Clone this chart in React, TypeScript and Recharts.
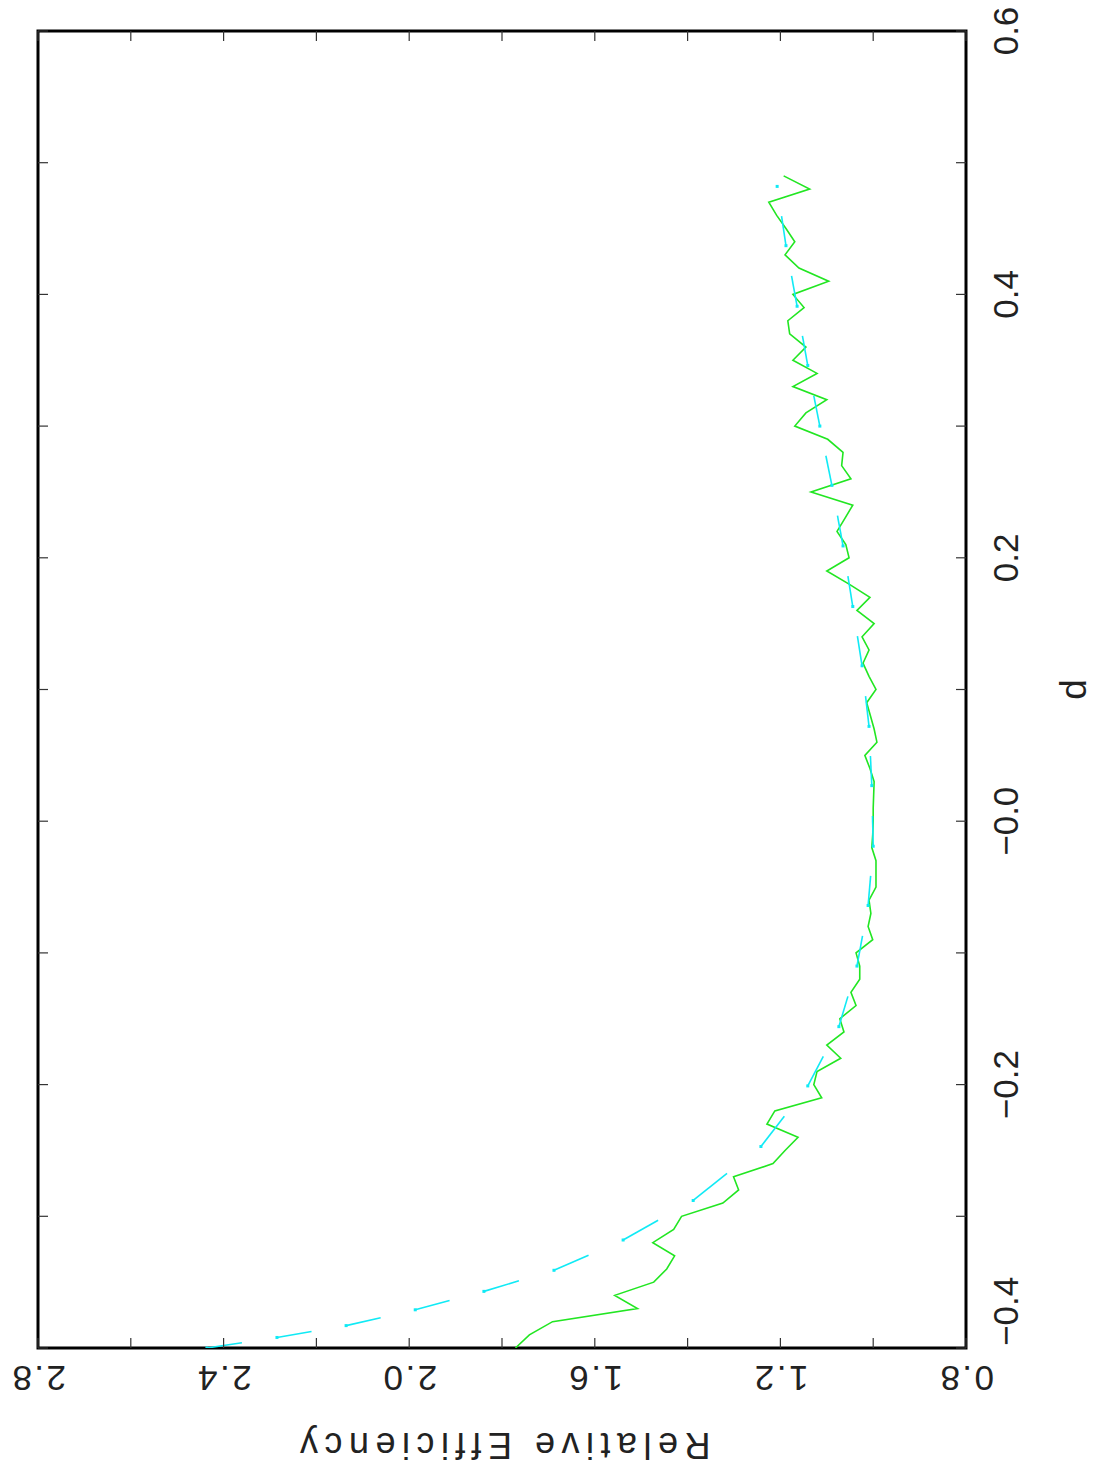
import React from 'react'
import { LineChart, Line, XAxis, YAxis, ReferenceArea } from 'recharts'

// d grid for the simulated curve (step 0.01, from -0.40 to 0.49)
const GREEN_EFF = [
  1.771, 1.741, 1.691, 1.508, 1.557, 1.473, 1.445, 1.428, 1.475, 1.430,
  1.413, 1.324, 1.290, 1.301, 1.216, 1.190, 1.162, 1.229, 1.212, 1.111,
  1.128, 1.121, 1.070, 1.100, 1.063, 1.072, 1.037, 1.048, 1.029, 1.029,
  1.037, 1.001, 1.011, 1.005, 1.009, 0.994, 0.994, 0.994, 1.003, 1.001,
  1.000, 1.000, 0.999, 0.998, 1.007, 1.018, 0.992, 0.998, 1.006, 1.014,
  0.994, 1.009, 1.022, 1.009, 1.024, 0.998, 1.035, 1.007, 1.052, 1.100,
  1.052, 1.059, 1.078, 1.061, 1.044, 1.134, 1.048, 1.068, 1.065, 1.098,
  1.169, 1.145, 1.100, 1.173, 1.121, 1.173, 1.145, 1.180, 1.184, 1.149,
  1.173, 1.096, 1.160, 1.190, 1.169, 1.188, 1.208, 1.225, 1.137, 1.193,
]
const GREEN_D = GREEN_EFF.map((_, i) => Number((-0.4 + i * 0.01).toFixed(2)))

// theoretical curve, points
const CYAN_D = [
  -0.400, -0.392, -0.383, -0.371, -0.357, -0.341, -0.318, -0.288, -0.247, -0.201,
  -0.156, -0.110, -0.064, -0.019, 0.027, 0.072, 0.118, 0.163, 0.209, 0.255,
  0.300, 0.346, 0.391, 0.437, 0.482,
]
const CYAN_EFF = [
  2.436, 2.285, 2.136, 1.987, 1.839, 1.688, 1.539, 1.388, 1.242, 1.141,
  1.074, 1.035, 1.011, 1.000, 1.003, 1.009, 1.024, 1.044, 1.065, 1.089,
  1.115, 1.141, 1.164, 1.188, 1.207,
]

const D_TICKS = [-0.4, -0.3, -0.2, -0.1, 0, 0.1, 0.2, 0.3, 0.4, 0.5, 0.6]
const D_LABELS = ['\u22120.4', '', '\u22120.2', '', '\u22120.0', '', '0.2', '', '0.4', '', '0.6']
const EFF_TICKS = [0.8, 1.0, 1.2, 1.4, 1.6, 1.8, 2.0, 2.2, 2.4, 2.6, 2.8]
const EFF_LABELS = ['0.8', '', '1.2', '', '1.6', '', '2.0', '', '2.4', '', '2.8']

const greenData = GREEN_D.map((d, i) => ({ d, eff: GREEN_EFF[i] }))
const cyanData = CYAN_D.map((d, i) => ({ d, eff: CYAN_EFF[i] }))

const W = 1467
const H = 1096
const PLOT_TOP = 38
const PLOT_RIGHT = 1436
const FONT = '"Liberation Sans", Arial, sans-serif'
const GREEN = '#22e622'
const CYAN = '#10eaf5'
const TICK = '#333'
const TEXT = '#222'

function DTick(props: any) {
  const { x, y, index } = props
  const label = D_LABELS[index]
  return (
    <g>
      <line x1={x} y1={y} x2={x} y2={y - 10} stroke={TICK} strokeWidth={1.2} />
      <line x1={x} y1={PLOT_TOP} x2={x} y2={PLOT_TOP + 10} stroke={TICK} strokeWidth={1.2} />
      {label && (
        <text
          x={index === 0 ? x + 2 : x}
          y={y + 52}
          textAnchor={index === 0 ? 'start' : 'middle'}
          fontFamily={FONT}
          fontSize={35}
          fill={TEXT}
        >
          {label}
        </text>
      )}
    </g>
  )
}

function EffTick(props: any) {
  const { x, y, index } = props
  const label = EFF_LABELS[index]
  const tx = x - 18
  return (
    <g>
      <line x1={x} y1={y} x2={x + 10} y2={y} stroke={TICK} strokeWidth={1.2} />
      <line x1={PLOT_RIGHT} y1={y} x2={PLOT_RIGHT - 10} y2={y} stroke={TICK} strokeWidth={1.2} />
      {label && (
        <text
          x={tx}
          y={y}
          transform={`rotate(-90, ${tx}, ${y})`}
          textAnchor="middle"
          fontFamily={FONT}
          fontSize={35}
          letterSpacing={2.5}
          fill={TEXT}
        >
          {label}
        </text>
      )}
    </g>
  )
}

function CyanDot(props: any) {
  const { cx, cy, index, points } = props
  const next = points && points[index + 1]
  return (
    <g key={`cd-${index}`}>
      {next && (
        <line
          x1={cx}
          y1={cy}
          x2={(cx + next.x) / 2}
          y2={(cy + next.y) / 2}
          stroke={CYAN}
          strokeWidth={1.6}
        />
      )}
      <rect x={cx - 1.5} y={cy - 1.5} width={3} height={3} fill={CYAN} />
    </g>
  )
}

export default function App() {
  return (
    <div
      style={{
        position: 'absolute',
        left: 0,
        top: 0,
        width: 1096,
        height: 1467,
        overflow: 'hidden',
        background: '#fff',
      }}
    >
      <div
        style={{
          width: W,
          height: H,
          transformOrigin: '0 0',
          transform: `translateY(${W}px) rotate(-90deg)`,
        }}
      >
        <LineChart width={W} height={H} margin={{ top: PLOT_TOP, right: W - PLOT_RIGHT, bottom: 0, left: 0 }}>
          <XAxis
            dataKey="d"
            type="number"
            domain={[-0.4, 0.6]}
            ticks={D_TICKS}
            allowDataOverflow
            height={130}
            tickSize={0}
            tickMargin={0}
            tickLine={false}
            axisLine={false}
            interval={0}
            tick={<DTick />}
            label={{
              content: (p: any) => {
                const vb = p.viewBox
                return (
                  <text
                    x={vb.x + vb.width / 2}
                    y={vb.y + 120}
                    textAnchor="middle"
                    fontFamily={FONT}
                    fontSize={37}
                    fill={TEXT}
                  >
                    d
                  </text>
                )
              },
            }}
          />
          <YAxis
            dataKey="eff"
            type="number"
            domain={[0.8, 2.8]}
            ticks={EFF_TICKS}
            allowDataOverflow
            width={119}
            tickSize={0}
            tickMargin={0}
            tickLine={false}
            axisLine={false}
            interval={0}
            tick={<EffTick />}
            label={{
              content: (p: any) => {
                const vb = p.viewBox
                const cx = 34
                const cy = vb.y + vb.height / 2
                return (
                  <text
                    x={cx}
                    y={cy}
                    transform={`rotate(-90, ${cx}, ${cy})`}
                    textAnchor="middle"
                    fontFamily={FONT}
                    fontSize={36}
                    letterSpacing={6.5}
                    fill={TEXT}
                  >
                    Relative Efficiency
                  </text>
                )
              },
            }}
          />
          <ReferenceArea
            x1={-0.4}
            x2={0.6}
            y1={0.8}
            y2={2.8}
            fill="none"
            stroke="#000"
            strokeWidth={3}
            ifOverflow="visible"
          />
          <Line
            data={greenData}
            dataKey="eff"
            type="linear"
            stroke={GREEN}
            strokeWidth={1.6}
            dot={false}
            isAnimationActive={false}
          />
          <Line
            data={cyanData}
            dataKey="eff"
            type="linear"
            stroke={CYAN}
            strokeOpacity={0}
            strokeWidth={1.6}
            dot={CyanDot}
            activeDot={false}
            isAnimationActive={false}
          />
        </LineChart>
      </div>
    </div>
  )
}
